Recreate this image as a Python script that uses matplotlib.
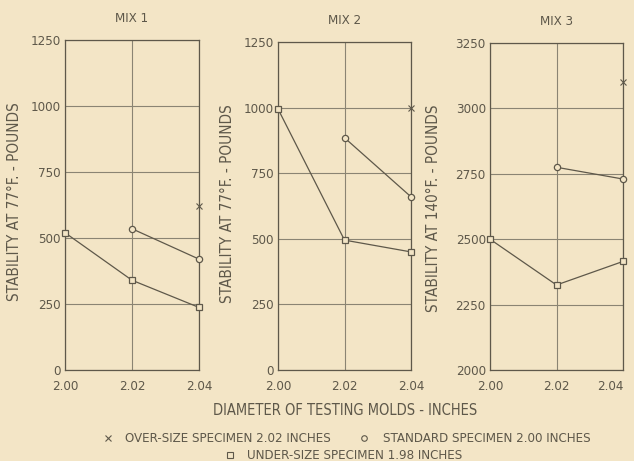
import matplotlib
matplotlib.use("Agg")
import matplotlib.pyplot as plt
from matplotlib.lines import Line2D

# ------------------ DATA ------------------
DIAMETERS = [2.00, 2.02, 2.04]
X_TICK_LABELS = ["2.00", "2.02", "2.04"]

MIX_TITLES = ["MIX 1", "MIX 2", "MIX 3"]
Y_LABELS = ["STABILITY AT 77°F. - POUNDS",
            "STABILITY AT 77°F. - POUNDS",
            "STABILITY AT 140°F. - POUNDS"]
Y_TICKS = [[0, 250, 500, 750, 1000, 1250],
           [0, 250, 500, 750, 1000, 1250],
           [2000, 2250, 2500, 2750, 3000, 3250]]

# under-size specimen (squares) at 2.00, 2.02, 2.04
UNDER_SIZE = [[520, 340, 237],
              [995, 495, 450],
              [2500, 2325, 2415]]
# standard specimen (circles) at 2.02, 2.04
STANDARD_X = [2.02, 2.04]
STANDARD = [[535, 420],
            [885, 660],
            [2775, 2730]]
# over-size specimen (x) at 2.04
OVER_X = [2.04]
OVER_SIZE = [[620], [1000], [3100]]
# ------------------------------------------

BG = "#f3e5c6"
INK = "#5e584a"
GRID = "#8a8473"

plt.rcParams['font.family'] = ['DejaVu Sans']
plt.rcParams['font.stretch'] = 'condensed'
plt.rcParams['text.color'] = INK

fig = plt.figure(figsize=(6.34, 4.61), dpi=100, facecolor=BG)
W, H = 634, 461

# axes boxes in pixels: left, right, top, bottom
boxes = [(65, 199, 40, 370), (278, 411, 42, 370), (490, 623, 43, 370)]
ylabel_pos = [(15, 202), (228, 204), (433, 208)]

for i, (l, r, t, b) in enumerate(boxes):
    ax = fig.add_axes([l / W, 1 - b / H, (r - l) / W, (b - t) / H])
    ax.set_facecolor(BG)
    ax.plot(DIAMETERS, UNDER_SIZE[i], color=INK, lw=0.9, marker='s', ms=5,
            mfc=BG, mec=INK, mew=0.9, zorder=3, clip_on=False)
    ax.plot(STANDARD_X, STANDARD[i], color=INK, lw=0.9, marker='o', ms=4.5,
            mfc=BG, mec=INK, mew=0.9, zorder=3, clip_on=False)
    ax.plot(OVER_X, OVER_SIZE[i], ls='none', marker='x', ms=4, color=INK,
            mew=0.8, zorder=3, clip_on=False)

    ax.set_xlim(DIAMETERS[0], DIAMETERS[-1])
    ax.set_ylim(Y_TICKS[i][0], Y_TICKS[i][-1])
    ax.set_xticks(DIAMETERS)
    ax.set_xticklabels(X_TICK_LABELS)
    ax.set_yticks(Y_TICKS[i])
    ax.tick_params(length=0, labelsize=9.5, labelcolor=INK)
    ax.tick_params(axis='x', pad=7)
    ax.tick_params(axis='y', pad=3)
    ax.grid(True, color=GRID, lw=0.8)
    for sp in ax.spines.values():
        sp.set_color(INK)
        sp.set_linewidth(0.9)
    ax.set_title(MIX_TITLES[i], fontsize=9.5, color=INK, pad=13)
    px, py = ylabel_pos[i]
    fig.text(px / W, 1 - py / H, Y_LABELS[i],
             rotation=90, ha='center', va='center', fontsize=11, color=INK)
    if i == 2:
        # last label sits flush with the right edge, as on the original sheet
        ax.get_xticklabels()[-1].set_horizontalalignment('right')

fig.text(345 / W, 1 - 410 / H, "DIAMETER OF TESTING MOLDS - INCHES",
         ha='center', va='center', fontsize=10.5, color=INK)

# legend drawn as figure text with markers
legend_items = [
    ('x', 108, 438, 125, "OVER-SIZE SPECIMEN 2.02 INCHES"),
    ('o', 364, 438, 383, "STANDARD SPECIMEN 2.00 INCHES"),
    ('s', 230, 455, 247, "UNDER-SIZE SPECIMEN 1.98 INCHES"),
]
for mk, mx, py, tx, label in legend_items:
    fig.add_artist(Line2D([mx / W], [1 - py / H], marker=mk, ms=4, ls='none',
                          mfc=BG, mec=INK, color=INK, mew=0.8,
                          transform=fig.transFigure))
    fig.text(tx / W, 1 - py / H, label, ha='left', va='center',
             fontsize=9.5, color=INK)

fig.savefig("out.png", dpi=100, facecolor=BG)
